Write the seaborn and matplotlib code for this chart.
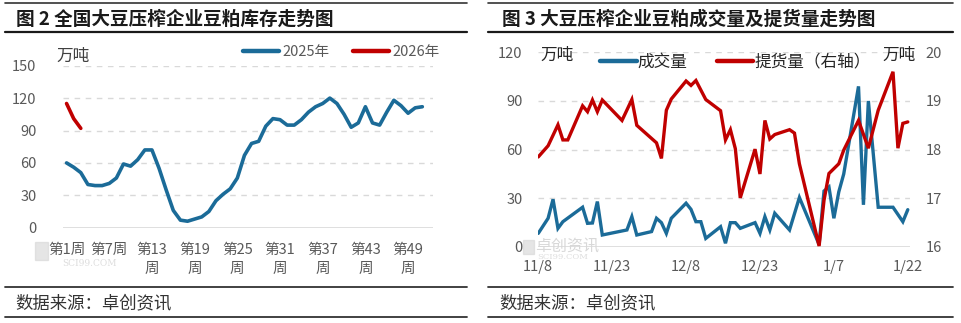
import numpy as np
import pandas as pd
import matplotlib
matplotlib.use("Agg")
import matplotlib.pyplot as plt
import matplotlib.dates as mdates
from matplotlib.lines import Line2D
from matplotlib.patches import Rectangle
import seaborn as sns

sns.set_theme(style="white")
plt.rcParams["font.family"] = ["Noto Sans CJK SC", "DejaVu Sans"]

# ---------------- 图2: weekly soybean-meal inventory (万吨) ----------------
weeks_2025 = list(range(1, 52))
stock_2025 = [60, 56, 51, 40, 39, 39, 41, 46, 59, 57,
              63, 72, 72, 55, 35, 16, 7, 6, 8, 10,
              15, 25, 31, 36, 46, 67, 78, 80, 94, 101,
              100, 95, 95, 100, 107, 112, 115, 120, 115, 105,
              93, 97, 112, 97, 95, 107, 118, 113, 106, 111,
              112]
weeks_2026 = [1, 2, 3]
stock_2026 = [115, 101, 92]
week_ticks = [1, 7, 13, 19, 25, 31, 37, 43, 49]

# ---------------- 图3: daily deal volume / pickup volume ----------------
deal_dates = ["2025-11-08", "2025-11-10", "2025-11-11", "2025-11-12", "2025-11-13",
              "2025-11-17", "2025-11-18", "2025-11-19", "2025-11-20", "2025-11-21",
              "2025-11-26", "2025-11-27", "2025-11-28", "2025-12-01", "2025-12-02",
              "2025-12-03", "2025-12-04", "2025-12-05", "2025-12-08", "2025-12-09",
              "2025-12-10", "2025-12-11", "2025-12-12", "2025-12-15", "2025-12-16",
              "2025-12-17", "2025-12-18", "2025-12-19", "2025-12-22", "2025-12-23",
              "2025-12-24", "2025-12-25", "2025-12-26", "2025-12-29", "2025-12-31",
              "2026-01-04", "2026-01-05", "2026-01-06", "2026-01-07", "2026-01-08",
              "2026-01-09", "2026-01-12", "2026-01-13", "2026-01-14", "2026-01-16",
              "2026-01-19", "2026-01-21", "2026-01-22"]
deal_volume = [8.4, 17.7, 29.4, 11.5, 15.6,
               24.5, 14.6, 14.8, 28, 7.4,
               10.5, 18.7, 7.4, 9.5, 17.7,
               15, 8.4, 17.7, 27, 23.2,
               15.6, 15.6, 5.3, 12.5, 2.3,
               15, 15, 11.5, 15, 8.4,
               18.7, 10.5, 20.8, 10.5, 30.5,
               1.5, 34.5, 37, 17.7, 34,
               45, 99, 26, 90, 24.5,
               24.5, 15.6, 23]

pickup_dates = ["2025-11-08", "2025-11-10", "2025-11-12", "2025-11-13", "2025-11-14",
                "2025-11-17", "2025-11-18", "2025-11-19", "2025-11-20", "2025-11-21",
                "2025-11-25", "2025-11-27", "2025-11-28", "2025-12-02", "2025-12-03",
                "2025-12-04", "2025-12-05", "2025-12-08", "2025-12-09", "2025-12-10",
                "2025-12-12", "2025-12-15", "2025-12-16", "2025-12-17", "2025-12-18",
                "2025-12-19", "2025-12-22", "2025-12-23", "2025-12-24", "2025-12-25",
                "2025-12-26", "2025-12-29", "2025-12-30", "2025-12-31", "2026-01-04",
                "2026-01-05", "2026-01-06", "2026-01-08", "2026-01-09", "2026-01-12",
                "2026-01-14", "2026-01-16", "2026-01-19", "2026-01-20", "2026-01-21",
                "2026-01-22"]
pickup_volume = [17.85, 18.08, 18.51, 18.2, 18.2,
                 18.9, 18.78, 19.02, 18.78, 19.02,
                 18.6, 19.03, 18.5, 18.14, 17.82,
                 18.81, 19.04, 19.41, 19.32, 19.42,
                 19.03, 18.8, 18.2, 18.41, 18.02,
                 17.01, 18.01, 17.5, 18.6, 18.22,
                 18.31, 18.41, 18.34, 17.71, 16.02,
                 16.96, 17.51, 17.71, 17.99, 18.6,
                 18.03, 18.81, 19.6, 18.03, 18.54,
                 18.57]
date_ticks = ["2025-11-08", "2025-11-23", "2025-12-08",
              "2025-12-23", "2026-01-07", "2026-01-22"]

BLUE = "#1B6B98"
RED = "#C00000"
GRID = "#D9D9D9"
TICK = "#595959"

W, H = 961, 323
fig = plt.figure(figsize=(W / 100, H / 100), dpi=100)


def fx(x):
    return x / W


def fy(y):
    return 1 - y / H


def axes_px(x0, x1, ytop, ybot):
    return fig.add_axes([fx(x0), fy(ybot), fx(x1) - fx(x0), fy(ytop) - fy(ybot)])


def style_grid(ax, levels):
    ax.grid(False)
    for v in levels:
        if v == levels[0]:
            ax.axhline(v, color=GRID, lw=1.2, zorder=0)
        else:
            ax.axhline(v, color=GRID, lw=1.0, ls=(0, (4, 4)), zorder=0)


# ---------------- left chart ----------------
ax1 = axes_px(63, 433, 65.7, 227.7)
df_stock = pd.DataFrame({
    "周": weeks_2025 + weeks_2026,
    "库存": stock_2025 + stock_2026,
    "年份": ["2025年"] * len(weeks_2025) + ["2026年"] * len(weeks_2026),
})
sns.lineplot(data=df_stock, x="周", y="库存", hue="年份",
             palette={"2025年": BLUE, "2026年": RED}, lw=2.6,
             legend=False, ax=ax1, solid_capstyle="round", solid_joinstyle="round")
ax1.set_xlim(0.5, 52.5)
ax1.set_ylim(0, 150)
ax1.set_yticks(range(0, 151, 30))
style_grid(ax1, list(range(0, 151, 30)))
ax1.set_xticks(week_ticks)
ax1.set_xticklabels([f"第{w}周" if w < 10 else f"第{w}\n周" for w in week_ticks],
                    linespacing=1.45)
ax1.set_xlabel("")
ax1.set_ylabel("")
ax1.tick_params(axis="both", length=0, labelsize=10.5, labelcolor=TICK)
ax1.tick_params(axis="x", pad=11)
ax1.tick_params(axis="y", pad=19)
for s in ax1.spines.values():
    s.set_visible(False)

fig.text(fx(73), fy(56), "万吨", ha="center", va="center", fontsize=12, color="#404040")
fig.legend([Line2D([], [], color=BLUE, lw=3.2), Line2D([], [], color=RED, lw=3.2)],
           ["2025年", "2026年"], loc="center left",
           bbox_to_anchor=(fx(243), fy(52)), bbox_transform=fig.transFigure,
           ncol=2, frameon=False, fontsize=10.5, handlelength=2.5,
           handletextpad=0.2, columnspacing=1.6, borderpad=0, borderaxespad=0,
           labelcolor=TICK)

# ---------------- right chart ----------------
ax2 = axes_px(538, 910, 52.3, 247)
ax3 = ax2.twinx()
deal_x = pd.to_datetime(deal_dates)
pick_x = pd.to_datetime(pickup_dates)
sns.lineplot(x=deal_x, y=deal_volume, ax=ax2, color=BLUE, lw=2.4,
             solid_joinstyle="miter")
sns.lineplot(x=pick_x, y=pickup_volume, ax=ax3, color=RED, lw=2.4,
             solid_joinstyle="miter")

x0 = mdates.date2num(pd.Timestamp("2025-11-08"))
x1 = mdates.date2num(pd.Timestamp("2026-01-22"))
ax2.set_xlim(x0 - 0.05, x1 + 0.45)
ax2.set_ylim(0, 120)
ax2.set_yticks(range(0, 121, 30))
ax3.set_ylim(16, 20)
ax3.set_yticks(range(16, 21))
style_grid(ax2, list(range(0, 121, 30)))
ticks = pd.to_datetime(date_ticks)
ax2.set_xticks(mdates.date2num(ticks))
ax2.set_xticklabels([f"{t.month}/{t.day}" for t in ticks])
for a in (ax2, ax3):
    a.set_xlabel("")
    a.set_ylabel("")
    a.tick_params(axis="both", length=0, labelsize=10.5, labelcolor=TICK)
    for s in a.spines.values():
        s.set_visible(False)
ax2.tick_params(axis="x", pad=9)
ax2.tick_params(axis="y", pad=11)
ax3.tick_params(axis="y", pad=11)

fig.text(fx(557), fy(55), "万吨", ha="center", va="center", fontsize=12, color="#262626")
fig.text(fx(899), fy(55), "万吨", ha="center", va="center", fontsize=12, color="#262626")
fig.legend([Line2D([], [], color=BLUE, lw=3.2), Line2D([], [], color=RED, lw=3.2)],
           ["成交量", "提货量（右轴）"], loc="center left",
           bbox_to_anchor=(fx(600), fy(62)), bbox_transform=fig.transFigure,
           ncol=2, frameon=False, fontsize=12, handlelength=2.2,
           handletextpad=0.05, columnspacing=1.75, borderpad=0, borderaxespad=0,
           labelcolor="#262626")

# ---------------- frames, titles, sources ----------------
for (a, b) in [(5, 467), (488, 953)]:
    fig.add_artist(Line2D([fx(a), fx(b)], [fy(3), fy(3)], color="#333333", lw=1.2))
    fig.add_artist(Line2D([fx(a), fx(b)], [fy(32), fy(32)], color="#1a1a1a", lw=1.6))
    fig.add_artist(Line2D([fx(a), fx(b)], [fy(287), fy(287)], color="#333333", lw=1.3))
    fig.add_artist(Line2D([fx(a), fx(b)], [fy(317), fy(317)], color="#333333", lw=1.3))

fig.text(fx(16), fy(19), "图 2 全国大豆压榨企业豆粕库存走势图", ha="left", va="center",
         fontsize=13.4, fontweight="bold", color="#1a1a1a")
fig.text(fx(502), fy(19), "图 3 大豆压榨企业豆粕成交量及提货量走势图", ha="left", va="center",
         fontsize=13.4, fontweight="bold", color="#1a1a1a")
fig.text(fx(15), fy(303), "数据来源：卓创资讯", ha="left", va="center",
         fontsize=12.5, color="#333333")
fig.text(fx(499), fy(303), "数据来源：卓创资讯", ha="left", va="center",
         fontsize=12.5, color="#333333")

# faint watermarks
fig.add_artist(Rectangle((fx(35), fy(260)), fx(48) - fx(35), fy(242) - fy(260),
                         transform=fig.transFigure, color="#D5D5D5", alpha=0.6, zorder=0))
fig.text(fx(62), fy(263), "SCI99.COM", ha="left", va="center", fontsize=6.5,
         family="DejaVu Serif", color="#DDDDDD", zorder=0)
fig.add_artist(Rectangle((fx(523), fy(254)), fx(534) - fx(523), fy(240) - fy(254),
                         transform=fig.transFigure, color="#D5D5D5", alpha=0.6, zorder=0))
fig.text(fx(535), fy(246), "卓创资讯", ha="left", va="center", fontsize=11.5,
         color="#D8D8D8", zorder=0)
fig.text(fx(537), fy(257), "SCI99.COM", ha="left", va="center", fontsize=6,
         family="DejaVu Serif", color="#DDDDDD", zorder=0)

fig.savefig("out.png", dpi=100)
